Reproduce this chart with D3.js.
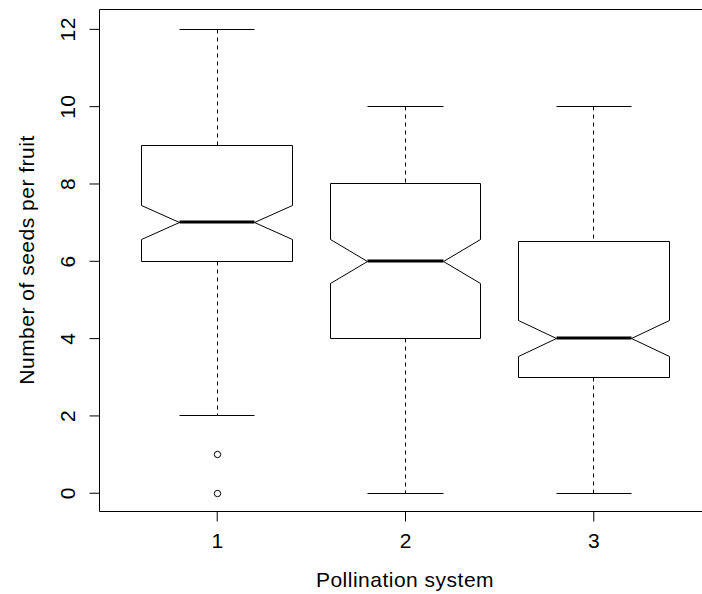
<!DOCTYPE html>
<html>
<head>
<meta charset="utf-8">
<script src="https://cdn.jsdelivr.net/npm/d3@7"></script>
<style>
  html, body { margin: 0; padding: 0; background: #fff; overflow: hidden; width: 702px; height: 594px; }
  svg { display: block; }
  text { font-family: "Liberation Sans", Arial, sans-serif; fill: #000; }
</style>
</head>
<body>
<svg id="chart" width="702" height="594"></svg>
<script>
// ---- data ----
const groups       = ["1", "2", "3"];
const whiskerLow   = [2, 0, 0];
const q1           = [6, 4, 3];
const median       = [7, 6, 4];
const q3           = [9, 8, 6.5];
const whiskerHigh  = [12, 10, 10];
const notchLow     = [6.56, 5.43, 3.54];
const notchHigh    = [7.44, 6.57, 4.46];
const outliers     = [[0, 1], [], []];
const yTicks       = [0, 2, 4, 6, 8, 10, 12];
const xLabel       = "Pollination system";
const yLabel       = "Number of seeds per fruit";

// ---- layout ----
const svg = d3.select("#chart");
const x = d3.scaleLinear().domain([0.38, 3.62]).range([100, 710]);
const y = d3.scaleLinear().domain([-0.48, 12.48]).range([511.3, 10.3]);
const boxW = 0.4;     // half box width in data units
const capW = 0.2;     // half staple width
const notchW = 0.2;   // half width at the median (notch)
const px = v => Math.round(v) + 0.5;

const data = groups.map((g, i) => ({
  g, pos: i + 1,
  lo: whiskerLow[i], q1: q1[i], med: median[i], q3: q3[i], hi: whiskerHigh[i],
  nlo: notchLow[i], nhi: notchHigh[i], out: outliers[i]
}));

// plot frame (right edge lies beyond the window, as in the reference)
svg.append("path")
  .attr("d", "M702,9.5H99.5V511.5H702")
  .attr("fill", "none").attr("stroke", "#000").attr("stroke-width", 1);

// axes
const yAxis = d3.axisLeft(y).tickValues(yTicks).tickSize(10).tickFormat(d3.format("d"));
const gy = svg.append("g").attr("transform", "translate(99.5,0)").call(yAxis);
gy.select(".domain").remove();
gy.selectAll(".tick line").attr("stroke", "#000");
gy.selectAll(".tick text")
  .attr("x", null).attr("dy", null)
  .attr("transform", "translate(-24.5,0) rotate(-90)")
  .attr("text-anchor", "middle")
  .style("font-size", "21px")
  .style("letter-spacing", "0.5px");

const xAxis = d3.axisBottom(x).tickValues(data.map(d => d.pos)).tickSize(10)
  .tickFormat((d, i) => groups[i]);
const gx = svg.append("g").attr("transform", "translate(0,511.5)").call(xAxis);
gx.select(".domain").remove();
gx.selectAll(".tick line").attr("stroke", "#000");
gx.selectAll(".tick text")
  .attr("y", 36).attr("dy", null)
  .attr("text-anchor", "middle")
  .style("font-size", "21px");

// axis titles
svg.append("text")
  .attr("x", 405).attr("y", 587)
  .attr("text-anchor", "middle")
  .style("font-size", "21px")
  .style("letter-spacing", "0.5px")
  .text(xLabel);

svg.append("text")
  .attr("transform", "translate(34,260) rotate(-90)")
  .attr("text-anchor", "middle")
  .style("font-size", "21px")
  .style("letter-spacing", "0.5px")
  .text(yLabel);

// boxes
const bx = svg.append("g").attr("fill", "none").attr("stroke", "#000");

data.forEach(d => {
  const cx = px(x(d.pos));
  // whiskers (dashed)
  bx.append("line").attr("x1", cx).attr("x2", cx)
    .attr("y1", px(y(d.hi))).attr("y2", px(y(d.q3)))
    .attr("stroke-dasharray", "4,4");
  bx.append("line").attr("x1", cx).attr("x2", cx)
    .attr("y1", px(y(d.q1))).attr("y2", px(y(d.lo)))
    .attr("stroke-dasharray", "4,4");
  // staples
  [d.hi, d.lo].forEach(v => {
    bx.append("line")
      .attr("x1", px(x(d.pos - capW))).attr("x2", px(x(d.pos + capW)))
      .attr("y1", px(y(v))).attr("y2", px(y(v)));
  });
  // notched box outline
  const L = px(x(d.pos - boxW)), R = px(x(d.pos + boxW));
  const nL = px(x(d.pos - notchW)), nR = px(x(d.pos + notchW));
  const pts = [
    [L, px(y(d.q1))], [L, px(y(d.nlo))], [nL, px(y(d.med))], [L, px(y(d.nhi))],
    [L, px(y(d.q3))], [R, px(y(d.q3))], [R, px(y(d.nhi))], [nR, px(y(d.med))],
    [R, px(y(d.nlo))], [R, px(y(d.q1))]
  ];
  bx.append("path")
    .attr("d", d3.line()(pts) + "Z")
    .attr("fill", "#fff")
    .attr("stroke-width", 1);
  // median
  bx.append("line")
    .attr("x1", nL).attr("x2", nR)
    .attr("y1", Math.round(y(d.med))).attr("y2", Math.round(y(d.med)))
    .attr("stroke-width", 3);
  // outliers
  d.out.forEach(v => {
    bx.append("circle").attr("cx", cx).attr("cy", px(y(v))).attr("r", 3.2);
  });
});
</script>
</body>
</html>
